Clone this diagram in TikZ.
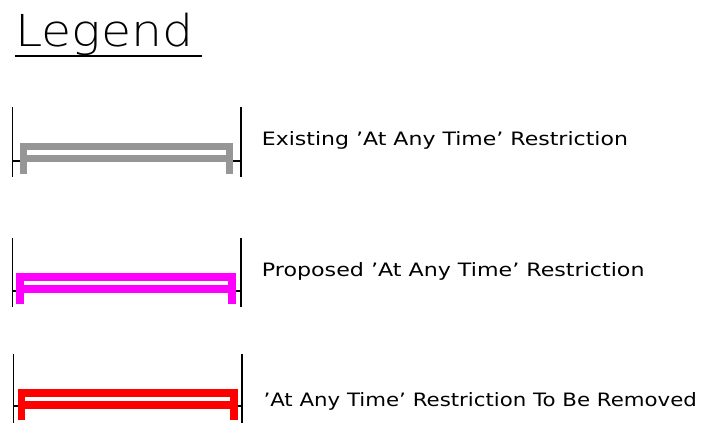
\documentclass[tikz,border=0pt]{standalone}
\usepackage{fontspec}
\setmainfont{DejaVu Sans}
\newfontfamily\thinfont{DejaVu Sans ExtraLight}
\usepackage{graphicx}
\definecolor{exgray}{RGB}{150,150,150}
\definecolor{propmag}{RGB}{255,0,255}
\definecolor{remred}{RGB}{255,0,0}
\begin{document}
\begin{tikzpicture}[x=1pt,y=-1pt,
  sym/.style={line width=7.5pt, line cap=butt, line join=miter},
  bracket/.style={line width=1.6pt, black},
  lbl/.style={anchor=base west, inner sep=0pt}]
\useasboundingbox (0,0) rectangle (715,428);
% Title
\node[lbl] (title) at (15,46.7) {\resizebox{178pt}{33.4pt}{\thinfont Legend}};
\coordinate (ulA) at (15,56);
\coordinate (ulB) at (201.7,56);
\draw[line width=1.8pt] (ulA) -- (ulB);

% Row 1: existing (grey)
\draw[bracket] (12.3,107) -- (12.3,177);
\draw[bracket] (240.7,107) -- (240.7,177);
\draw[bracket] (12.3,160.7) -- (20,160.7);
\draw[bracket] (233,160.7) -- (240.7,160.7);
\draw[sym,exgray] (23.3,174) -- (23.3,146.3) -- (229.3,146.3) -- (229.3,174);
\draw[sym,exgray] (23.3,158.3) -- (229.3,158.3);
\node[lbl] (l1) at (261.7,146) {\resizebox{366pt}{14pt}{Existing 'At Any Time' Restriction}};

% Row 2: proposed (magenta)
\draw[bracket] (12.3,238.3) -- (12.3,307);
\draw[bracket] (240.7,238.3) -- (240.7,307);
\draw[bracket] (12.3,290.7) -- (16,290.7);
\draw[bracket] (236,290.7) -- (240.7,290.7);
\draw[sym,propmag,line width=8pt] (20,304) -- (20,276.7) -- (232.3,276.7) -- (232.3,304);
\draw[sym,propmag,line width=8pt] (20,289.2) -- (232.3,289.2);
\node[lbl] (l2) at (261.7,276.7) {\resizebox{382.6pt}{14pt}{Proposed 'At Any Time' Restriction}};

% Row 3: to be removed (red)
\draw[bracket] (13.3,354) -- (13.3,422.7);
\draw[bracket] (242,354) -- (242,422.7);
\draw[bracket] (13.3,406) -- (18,406);
\draw[bracket] (237.3,406) -- (242,406);
\draw[sym,remred] (21.7,420) -- (21.7,392.8) -- (234,392.8) -- (234,420);
\draw[sym,remred] (21.7,405) -- (234,405);
\node[lbl] (l3) at (263.3,406) {\resizebox{433.4pt}{14pt}{'At Any Time' Restriction To Be Removed}};
\end{tikzpicture}
\end{document}
